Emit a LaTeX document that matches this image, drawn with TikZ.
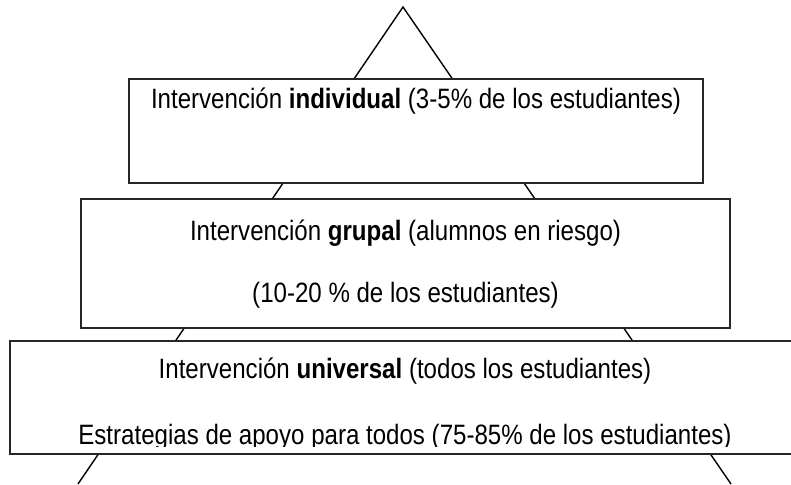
\documentclass[tikz,border=0pt]{standalone}
\usepackage{fontspec}
\setmainfont{Liberation Sans}[FakeStretch=0.86]
\begin{document}
\begin{tikzpicture}[x=1pt,y=-1pt,
  box/.style={draw=black!85,line width=2pt,fill=white,inner sep=0pt},
  side/.style={draw=black,line width=1.4pt},
  lbl/.style={anchor=base,inner sep=0pt,font=\fontsize{28}{32}\selectfont}]
\fill[white] (0,0) rectangle (791,484);
\useasboundingbox (0,0) rectangle (791,484);
% pyramid sides
\coordinate (apex) at (403,7);
\coordinate (bl) at (78,484);
\coordinate (br) at (731,484);
\draw[side] (bl) -- (apex) -- (br);
% boxes
\node[box,minimum width=574pt,minimum height=104pt] (b1) at (416,131) {};
\node[box,minimum width=649pt,minimum height=129pt] (b2) at (405.5,263.5) {};
\node[box,minimum width=790pt,minimum height=113pt] (b3) at (405,397.5) {};
% texts
\node[lbl] (t1) at (416,108) {Intervención \textbf{individual} (3-5\% de los estudiantes)};
\node[lbl] (t2) at (405.5,240) {Intervención \textbf{grupal} (alumnos en riesgo)};
\node[lbl] (t3) at (405.5,302) {(10-20 \% de los estudiantes)};
\node[lbl] (t4) at (405,378.5) {Intervención \textbf{universal} (todos los estudiantes)};
\coordinate (cutR) at (800,446.5);
\begin{scope}
\clip (b3.north west) rectangle (cutR);
\node[lbl] (t5) at (405,444) {Estrategias de apoyo para todos (75-85\% de los estudiantes)};
\end{scope}
\end{tikzpicture}
\end{document}
